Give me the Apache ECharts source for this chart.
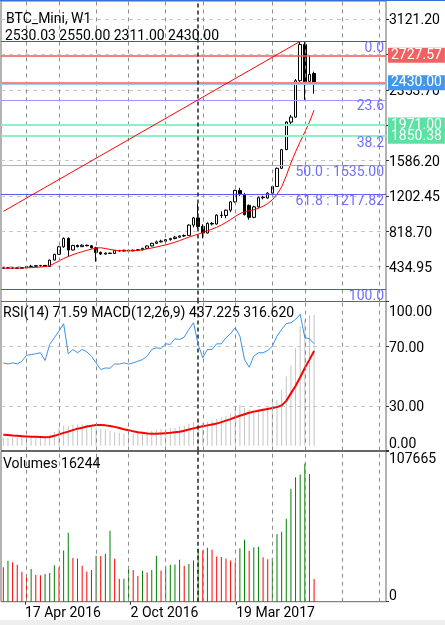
<!DOCTYPE html>
<html>
<head>
<meta charset="utf-8">
<title>BTC_Mini, W1</title>
<script src="https://cdn.jsdelivr.net/npm/echarts@6/dist/echarts.min.js"></script>
<style>
  html, body { margin: 0; padding: 0; background: #fff; }
  #chart { width: 445px; height: 625px; }
  #topbar { position: absolute; left: 0; top: 0; width: 445px; height: 1px; background: #3a6fd8; }
  #footer { position: absolute; left: 0; top: 620px; width: 445px; height: 5px; background: #eeeeee; }
</style>
</head>
<body>
<div id="chart"></div>
<div id="topbar"></div>
<div id="footer"></div>
<script>
// weekly bars
const opens = [418, 422, 420, 421, 418, 424, 436, 440, 446, 449, 438, 507, 569, 651, 742, 616, 665, 652, 668, 662,
  640, 590, 572, 582, 578, 610, 606, 613, 607, 614, 618, 634, 660, 688, 704, 712, 728, 740, 755, 768,
  774, 886, 964, 870, 800, 905, 898, 994, 990, 1048, 1138, 1262, 1213, 1100, 970, 1084, 1183, 1180, 1232, 1305,
  1502, 1704, 2003, 2057, 2452, 2845, 2445, 2530.03]
const highs = [428, 428, 426, 425, 430, 440, 455, 452, 450, 452, 512, 575, 660, 752, 752, 672, 675, 678, 674, 668,
  651, 600, 590, 588, 616, 618, 620, 620, 620, 624, 640, 666, 694, 718, 728, 732, 748, 770, 775, 784,
  895, 975, 1120, 895, 915, 918, 1002, 1035, 1055, 1145, 1270, 1290, 1235, 1110, 1095, 1195, 1205, 1242, 1312, 1510,
  1712, 2012, 2080, 2470, 2878.98, 2870, 2727, 2550.00]
const lows = [412, 414, 415, 412, 415, 420, 430, 435, 436, 432, 436, 503, 565, 640, 543, 610, 645, 648, 655, 632,
  489, 562, 566, 572, 575, 598, 600, 602, 603, 604, 612, 628, 655, 684, 698, 706, 718, 732, 748, 758,
  770, 862, 845, 742, 795, 882, 892, 962, 960, 1025, 1130, 1200, 990, 945, 960, 1075, 1165, 1172, 1222, 1300,
  1495, 1700, 1975, 2050, 2440, 2245, 2420, 2311.00]
const closes = [422, 420, 421, 418, 424, 436, 440, 446, 449, 438, 507, 569, 651, 742, 616, 665, 652, 668, 662, 640,
  590, 572, 582, 578, 610, 606, 613, 607, 614, 618, 634, 660, 688, 704, 712, 728, 740, 755, 768, 774,
  886, 964, 870, 800, 905, 898, 994, 990, 1048, 1138, 1262, 1225, 1000, 970, 1084, 1183, 1190, 1232, 1305, 1502,
  1704, 2003, 2057, 2452, 2845, 2440, 2520, 2430.00]
const maLine = [418, 418, 419, 420, 421, 423, 425, 428, 431, 436, 447, 470, 498, 524, 545, 565, 582, 597, 612, 625,
  638, 640, 632, 622, 614, 609, 607, 607, 608, 612, 618, 628, 638, 648, 660, 671, 685, 700, 718, 737,
  755, 772, 788, 806, 824, 843, 863, 887, 915, 946, 980, 1010, 1030, 1042, 1053, 1068, 1090, 1120, 1160, 1220,
  1300, 1420, 1560, 1680, 1790, 1895, 2005, 2132]

const rsi = [58.8, 58.1, 58.8, 58.1, 59.9, 63.9, 64.4, 64.9, 65.6, 60.4, 71.2, 75.7, 80.1, 85.1, 64.9, 67.8, 65.6, 67.8, 66.2, 63.3,
  58.8, 54.3, 55.4, 55.2, 58.1, 58.0, 58.8, 58.0, 58.8, 59.9, 61.0, 63.3, 67.8, 68.9, 68.5, 71.6, 71.2, 75.0, 74.5, 76.1,
  81.3, 85.8, 71.2, 62.2, 67.8, 67.8, 71.6, 71.6, 75.7, 78.4, 82.4, 76.8, 61.0, 55.9, 63.3, 65.6, 65.6, 67.1, 70.0, 76.8,
  81.3, 85.1, 85.8, 88.0, 91.4, 75.7, 75.0, 71.59]
const macdMain = [27, 27, 27, 27, 27, 27, 27, 27, 27, 25, 36, 47, 60, 67, 67, 69, 71, 71, 69, 67,
  60, 56, 53, 49, 47, 43, 41, 41, 41, 43, 45, 47, 49, 53, 56, 56, 58, 60, 64, 67,
  74, 78, 74, 76, 80, 85, 89, 94, 100, 108, 127, 136, 125, 120, 120, 123, 123, 131, 142, 153,
  187, 232, 268, 326, 399, 421, 436, 437.225]
const macdSignal = [37, 36, 34, 33, 32, 31, 30, 30, 29, 28, 29, 33, 38, 43, 47, 52, 57, 60, 64, 67,
  69, 69, 68, 66, 63, 59, 55, 52, 48, 45, 43, 41, 40, 40, 41, 42, 43, 45, 47, 50,
  54, 58, 62, 65, 68, 71, 74, 79, 84, 89, 95, 100, 105, 110, 114, 117, 120, 123, 126, 129,
  135, 150, 175, 200, 229, 260, 288, 316.62]
const volumes = [24700, 29300, 28300, 26400, 21400, 19200, 23500, 19200, 19000, 19900,
  20600, 26200, 24700, 36700, 49400, 31400, 30900, 25700, 21600, 22800,
  32900, 32700, 34300, 50800, 30700, 16300, 16500, 25400, 22800, 18500,
  22100, 20900, 22800, 32900, 22300, 25200, 26400, 26600, 30000, 25700,
  27100, 29500, 37900, 36700, 38600, 37200, 32400, 32100, 30900, 29500,
  28300, 38400, 44400, 36500, 39100, 39300, 31900, 30500, 31200, 48500,
  50100, 59500, 81000, 89200, 91100, 99000, 91600, 16244]

// axis ticks / labels
const priceTicks = [434.95, 818.70, 1202.45, 1586.20, 1969.95, 2353.70, 2737.45, 3121.20]
const rsiTicks = [0, 30, 70, 100]
const volumeTicks = [0, 107665]
// vertical time grid (bar slots it falls on) and the dates written under every third line
const timeGridBars = [5, 12, 20, 27, 35, 43, 50, 58, 65, 73, 81]
const timeLabelSlots = [1, 4, 7]
const timeLabels = ['', '17 Apr 2016', '', '', '2 Oct 2016', '', '', '19 Mar 2017', '', '', '', '']

// fibonacci retracement and drawn objects
const fibHigh = 2878.98
const fibLow = 191.02
const fibLevels = [0, 23.6, 38.2, 50, 61.8, 100]
const fibShowPrice = [false, false, false, true, true, false]
const trendFrom = [0, 1035]
const trendTo = [64, fibHigh]
const markedBar = 42
const levelPrices = [2727.57, 2430.00, 1971.00, 1850.38]
const askPrice = 2418

const totalSlots = 83
const weeks = []
const firstWeek = Date.UTC(2016, 2, 13)
for (let i = 0; i < totalSlots; i++) {
  weeks.push(new Date(firstWeek + i * 7 * 864e5).toISOString().slice(0, 10))
}

const font = 'Roboto'
const last = closes.length - 1

const candleData = opens.map((o, i) => [o, closes[i], lows[i], highs[i]])
const volumeData = volumes.map((v, i) => ({
  value: v,
  itemStyle: { color: i > 0 && v > volumes[i - 1] ? '#008000' : '#ff0000' }
}))

const fibColors = ['#4b4bd8', '#9a9aff', '#9a9aff', '#a8a8ff', '#5a5af0', '#4d4df0']
const fibLines = fibLevels.map((lv, i) => {
  const price = fibHigh - lv / 100 * (fibHigh - fibLow)
  return {
    yAxis: price,
    lineStyle: { color: fibColors[i], width: 1, type: 'solid' },
    label: {
      show: true,
      position: 'insideEndBottom',
      distance: [2, 0],
      color: '#6f6fff',
      fontSize: 14,
      fontFamily: font,
      formatter: lv.toFixed(1) + (fibShowPrice[i] ? ' : ' + price.toFixed(2) : '')
    }
  }
})

const levelColors = ['#f25a5a', '#f58585', '#8af2c6', '#8af2c6']
const levelBoxes = ['#f06262', '#3f97ee', '#5de0a3', '#5de0a3']
const levelWidths = [1.5, 2, 2, 2]
const levelLines = levelPrices.map((p, i) => ({
  yAxis: p,
  lineStyle: { color: levelColors[i], width: levelWidths[i], type: 'solid' },
  label: {
    show: true,
    position: 'end',
    distance: 2,
    formatter: p.toFixed(2),
    color: '#fff',
    backgroundColor: levelBoxes[i],
    padding: [1, 3, 0, 3],
    fontSize: 14,
    fontFamily: font
  }
}))

// darker than the reference grey: these fall on fractional pixels and get softened
const gridLines = timeGridBars.map(b => ({
  xAxis: b,
  lineStyle: { color: '#8c8c8c', type: [4, 4], width: 1 },
  label: { show: false }
}))

const vLine = {
  xAxis: markedBar,
  lineStyle: { color: '#222', type: [4, 3], width: 1.5 },
  label: { show: false }
}

const labelRich = {
  mid: { padding: [4, 0, 0, 0], fontSize: 14, color: '#000', fontFamily: font },
  top: { padding: [21, 0, 0, 0], fontSize: 14, color: '#000', fontFamily: font },
  bot: { padding: [0, 0, 13, 0], fontSize: 14, color: '#000', fontFamily: font },
  vtop: { padding: [15, 0, 0, 0], fontSize: 14, color: '#000', fontFamily: font },
  vbot: { padding: [0, 0, 11, 0], fontSize: 14, color: '#000', fontFamily: font }
}
const titleStyle = { fontSize: 14, fontWeight: 'normal', color: '#000', fontFamily: font }

const chart = echarts.init(document.getElementById('chart'))

chart.setOption({
  animation: false,
  textStyle: { fontFamily: font },
  title: [
    { text: 'BTC_Mini, W1', left: 6, top: 12, padding: 0, textStyle: titleStyle },
    { text: [opens[last], highs[last], lows[last], closes[last]].map(v => v.toFixed(2)).join(' '),
      left: 5, top: 29, padding: 0, textStyle: titleStyle },
    { text: 'RSI(14) ' + rsi[last].toFixed(2) + ' MACD(12,26,9) ' + macdMain[last].toFixed(3) + ' ' + macdSignal[last].toFixed(3),
      left: 3, top: 306, padding: 0, textStyle: titleStyle },
    { text: 'Volumes ' + volumes[last], left: 3, top: 457, padding: 0, textStyle: titleStyle }
  ],
  grid: [
    { left: 1, top: 1, width: 385, height: 300.5, show: true, borderColor: '#666', borderWidth: 1,
      backgroundColor: 'transparent', outerBoundsMode: 'none' },
    { left: 1, top: 301.5, width: 385, height: 149, show: true, borderColor: '#666', borderWidth: 1,
      backgroundColor: 'transparent', outerBoundsMode: 'none' },
    { left: 1, top: 451.5, width: 385, height: 150.2, show: true, borderColor: '#666', borderWidth: 1,
      backgroundColor: 'transparent', outerBoundsMode: 'none' },
    // date scale under the volume panel
    { left: 1, top: 1, width: 385, height: 600.7, show: false, outerBoundsMode: 'none' }
  ],
  xAxis: [
    { type: 'category', gridIndex: 0, data: weeks, show: false },
    { type: 'category', gridIndex: 1, data: weeks, show: false },
    { type: 'category', gridIndex: 2, data: weeks, show: false },
    { type: 'value', gridIndex: 3, min: 0.318, max: 11.256, position: 'bottom',
      axisLine: { show: false },
      axisTick: { show: true, customValues: timeLabelSlots, length: 3, lineStyle: { color: '#333' } },
      axisLabel: { show: true, customValues: timeLabelSlots, align: 'left', margin: 5,
        fontSize: 14, color: '#000', fontFamily: font,
        formatter: v => timeLabels[Math.round(v)] || '' },
      splitLine: { show: false } }
  ],
  yAxis: [
    { type: 'value', gridIndex: 0, position: 'right', min: 57.5, max: 3316.4, scale: true,
      axisLine: { show: false },
      axisTick: { show: true, customValues: priceTicks, length: 3, lineStyle: { color: '#333' } },
      axisLabel: { customValues: priceTicks, margin: 3, fontSize: 14, color: '#000', fontFamily: font,
        formatter: v => '{mid|' + v.toFixed(2) + '}', rich: labelRich },
      splitLine: { show: true, lineStyle: { color: '#c8c8c8', type: [4, 4], width: 1 } } },
    { type: 'value', gridIndex: 1, position: 'right', min: 0, max: 100,
      axisLine: { show: false },
      axisTick: { show: true, customValues: rsiTicks, length: 3, lineStyle: { color: '#333' } },
      axisLabel: { customValues: rsiTicks, margin: 3, fontSize: 14, color: '#000', fontFamily: font,
        formatter: v => v === 100 ? '{top|100.00}' : v === 0 ? '{bot|0.00}' : '{mid|' + v.toFixed(2) + '}',
        rich: labelRich },
      splitLine: { show: true, showMinLine: false, showMaxLine: false,
        lineStyle: { color: '#c8c8c8', type: [4, 4], width: 1 } } },
    { type: 'value', gridIndex: 1, position: 'right', min: -16.06, max: 482.4, show: false },
    { type: 'value', gridIndex: 2, position: 'right', min: 0, max: 107665,
      axisLine: { show: false },
      axisTick: { show: true, customValues: volumeTicks, length: 3, lineStyle: { color: '#333' } },
      axisLabel: { customValues: volumeTicks, margin: 3, fontSize: 14, color: '#000', fontFamily: font,
        formatter: v => v === 0 ? '{vbot|0}' : '{vtop|' + v + '}',
        rich: labelRich },
      splitLine: { show: false } },
    { type: 'value', gridIndex: 3, min: 0, max: 1, show: false }
  ],
  series: [
    {
      name: 'BTC_Mini',
      type: 'candlestick',
      xAxisIndex: 0,
      yAxisIndex: 0,
      data: candleData,
      barWidth: 3,
      itemStyle: { color: '#fff', color0: '#000', borderColor: '#000', borderColor0: '#000', borderWidth: 1 },
      markLine: {
        silent: true,
        symbol: ['none', 'none'],
        data: gridLines.concat(fibLines).concat([
          { yAxis: askPrice, lineStyle: { color: '#9ccaf2', width: 1, type: 'solid' }, label: { show: false } }
        ]).concat(levelLines).concat([
          [{ coord: trendFrom }, { coord: trendTo }],
          vLine
        ]),
        lineStyle: { color: '#ff0000', width: 1, type: 'solid' },
        label: { show: false }
      },
      z: 3
    },
    {
      name: 'MA',
      type: 'line',
      xAxisIndex: 0,
      yAxisIndex: 0,
      data: maLine,
      symbol: 'none',
      lineStyle: { color: '#ff0000', width: 1 },
      z: 4
    },
    {
      name: 'MACD',
      type: 'bar',
      xAxisIndex: 1,
      yAxisIndex: 2,
      data: macdMain,
      barWidth: 1,
      itemStyle: { color: '#c4c4c4' },
      z: 3
    },
    {
      name: 'Signal',
      type: 'line',
      xAxisIndex: 1,
      yAxisIndex: 2,
      data: macdSignal,
      symbol: 'none',
      lineStyle: { color: '#ff0000', width: 2 },
      z: 4
    },
    {
      name: 'RSI(14)',
      type: 'line',
      xAxisIndex: 1,
      yAxisIndex: 1,
      data: rsi,
      symbol: 'none',
      lineStyle: { color: '#3b90ea', width: 1 },
      markLine: { silent: true, symbol: ['none', 'none'], data: gridLines.concat([vLine]) },
      z: 5
    },
    {
      name: 'Volumes',
      type: 'bar',
      xAxisIndex: 2,
      yAxisIndex: 3,
      data: volumeData,
      barWidth: 1,
      markLine: { silent: true, symbol: ['none', 'none'], data: gridLines.concat([vLine]) },
      z: 3
    }
  ]
})
</script>
</body>
</html>
